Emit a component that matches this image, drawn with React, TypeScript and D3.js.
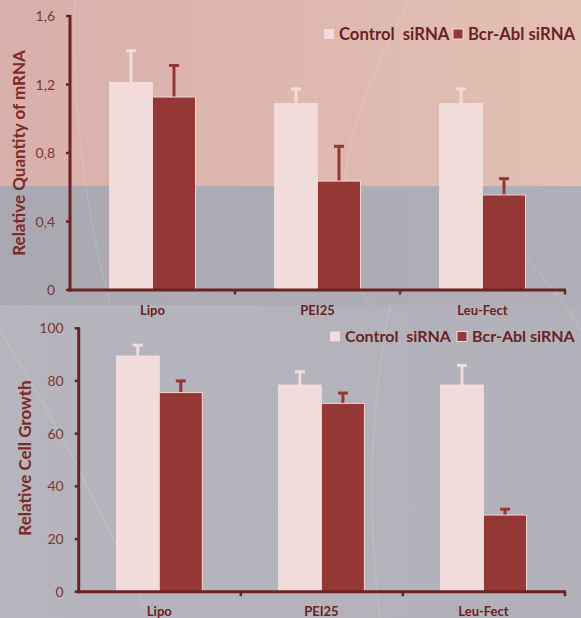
import React from "react";
import * as d3 from "d3";

const categories = ["Lipo", "PEI25", "Leu-Fect"];
const seriesNames = ["Control  siRNA", "Bcr-Abl siRNA"];

const mrnaControl = [1.213, 1.088, 1.088];
const mrnaControlErr = [0.19, 0.092, 0.092];
const mrnaBcr = [1.127, 0.636, 0.555];
const mrnaBcrErr = [0.19, 0.209, 0.101];
const mrnaTicks = [0, 0.4, 0.8, 1.2, 1.6];
const mrnaTickLabels = ["0", "0,4", "0,8", "1,2", "1,6"];

const growthControl = [89.5, 78.5, 78.5];
const growthControlErr = [4.5, 5.4, 7.8];
const growthBcr = [75.6, 71.5, 29.1];
const growthBcrErr = [4.8, 4.3, 2.6];
const growthTicks = [0, 20, 40, 60, 80, 100];
const growthTickLabels = ["0", "20", "40", "60", "80", "100"];

const CONTROL = "#f2dcdb";
const BCR = "#953735";
const AXIS = "#6b2222";
const TEXT = "#6b2222";
const TICKTXT = "#7a3636";
const FONT = "Lato, 'Open Sans', sans-serif";

type PanelProps = {
  x0: number;
  x1: number;
  yBottom: number;
  yTop: number;
  domainMax: number;
  ticks: number[];
  tickLabels: string[];
  control: number[];
  controlErr: number[];
  bcr: number[];
  bcrErr: number[];
  barOffset: number;
  barWidth: number;
  title: string;
  titleX: number;
  titleY: number;
  labelY: number;
  legendX: number;
  legendX2: number;
  legendY: number;
  legendSize: number;
};

function Panel(p: PanelProps) {
  const y = d3.scaleLinear().domain([0, p.domainMax]).range([p.yBottom, p.yTop]);
  const xg = d3.scaleBand<string>().domain(categories).range([p.x0, p.x1]).padding(0);
  const xs = d3
    .scaleBand<number>()
    .domain([0, 1])
    .range([p.barOffset, p.barOffset + 2 * p.barWidth])
    .padding(0);
  const series = [
    { vals: p.control, errs: p.controlErr, color: CONTROL, stroke: "#f6e6e4" },
    { vals: p.bcr, errs: p.bcrErr, color: BCR, stroke: "#f0d6d3" },
  ];
  const bw = xs.bandwidth();
  return (
    <g>
      {series.map((s, si) =>
        categories.map((c, ci) => {
          const bx = (xg(c) as number) + (xs(si) as number);
          const top = y(s.vals[ci]);
          const errTop = y(s.vals[ci] + s.errs[ci]);
          const cx = bx + bw / 2;
          return (
            <g key={`${si}-${ci}`}>
              <line x1={cx} x2={cx} y1={top} y2={errTop} stroke={s.color} strokeWidth={3} />
              <line x1={cx - 5} x2={cx + 5} y1={errTop + 1} y2={errTop + 1} stroke={s.color} strokeWidth={3} />
              <rect
                x={bx}
                y={top}
                width={bw}
                height={p.yBottom - top}
                fill={s.color}
                stroke={s.stroke}
                strokeWidth={si === 1 ? 1 : 0.6}
              />
            </g>
          );
        })
      )}
      {/* y axis */}
      <line x1={p.x0} x2={p.x0} y1={p.yTop - 1} y2={p.yBottom + 1.5} stroke={AXIS} strokeWidth={3} />
      {p.ticks.map((t, i) => (
        <g key={t}>
          <line x1={p.x0 - 4} x2={p.x0} y1={y(t)} y2={y(t)} stroke={AXIS} strokeWidth={2.5} />
          <text
            x={p.x0 - 15}
            y={y(t)}
            dy="0.36em"
            textAnchor="end"
            fontFamily={FONT}
            fontSize={14}
            fill={TICKTXT}
          >
            {p.tickLabels[i]}
          </text>
        </g>
      ))}
      {/* x axis */}
      <line x1={p.x0 - 2} x2={p.x1 + 1} y1={p.yBottom} y2={p.yBottom} stroke={AXIS} strokeWidth={3} />
      {categories.map((c) => {
        const gx = (xg(c) as number) + xg.bandwidth();
        return <line key={c} x1={gx} x2={gx} y1={p.yBottom} y2={p.yBottom + 4.5} stroke={AXIS} strokeWidth={2.5} />;
      })}
      {categories.map((c) => (
        <text
          key={c}
          x={(xg(c) as number) + p.barOffset + p.barWidth}
          y={p.labelY}
          textAnchor="middle"
          fontFamily={FONT}
          fontWeight="bold"
          fontSize={13}
          fill={TEXT}
        >
          {c}
        </text>
      ))}
      <text
        transform={`translate(${p.titleX},${p.titleY}) rotate(-90)`}
        textAnchor="middle"
        dy="0.36em"
        fontFamily={FONT}
        fontWeight="bold"
        fontSize={17}
        fill="#7d2a2a"
      >
        {p.title}
      </text>
      {/* legend */}
      {[p.legendX, p.legendX2].map((lx, i) => (
        <g key={i}>
          <rect
            x={lx}
            y={p.legendY - 10}
            width={10}
            height={10}
            fill={i === 0 ? CONTROL : BCR}
            stroke={i === 0 ? "none" : "#f2dcdb"}
            strokeWidth={1}
          />
          <text
            x={lx + 15}
            y={p.legendY + 0.5}
            fontFamily={FONT}
            fontWeight="bold"
            fontSize={p.legendSize}
            fill={TEXT}
            style={{ whiteSpace: "pre" }}
          >
            {seriesNames[i]}
          </text>
        </g>
      ))}
    </g>
  );
}

export default function App() {
  return (
    <svg
      width={581}
      height={618}
      style={{ position: "absolute", left: 0, top: 0 }}
      xmlns="http://www.w3.org/2000/svg"
    >
      <defs>
        <linearGradient id="pinkGrad" x1="0" x2="1" y1="0" y2="0">
          <stop offset="0" stopColor="#d9afab" />
          <stop offset="1" stopColor="#e3c0b3" />
        </linearGradient>
        <linearGradient id="grayGrad" x1="0" x2="1" y1="0" y2="0">
          <stop offset="0" stopColor="#aaa9b2" />
          <stop offset="1" stopColor="#b0afb8" />
        </linearGradient>
        <linearGradient id="bottomGrad" x1="0" x2="1" y1="0" y2="0">
          <stop offset="0" stopColor="#b6b5bd" />
          <stop offset="1" stopColor="#b2b1b9" />
        </linearGradient>
      </defs>
      <rect x={0} y={0} width={581} height={186} fill="url(#pinkGrad)" />
      <rect x={0} y={186} width={581} height={119} fill="url(#grayGrad)" />
      <rect x={0} y={305} width={581} height={313} fill="url(#bottomGrad)" />
      <g fill="none" stroke="#ffffff" strokeOpacity={0.14} strokeWidth={1.2}>
        <path d="M 75 0 Q 70 150 110 305" />
        <path d="M 410 0 Q 300 200 370 305" />
        <path d="M 0 330 Q 80 460 150 618" />
        <path d="M 390 305 Q 360 460 380 618" />
        <path d="M 460 200 Q 540 260 581 330" />
      </g>
      <Panel
        x0={70}
        x1={565}
        yBottom={290}
        yTop={16}
        domainMax={1.6}
        ticks={mrnaTicks}
        tickLabels={mrnaTickLabels}
        control={mrnaControl}
        controlErr={mrnaControlErr}
        bcr={mrnaBcr}
        bcrErr={mrnaBcrErr}
        barOffset={39.5}
        barWidth={43}
        title="Relative Quantity of mRNA"
        titleX={19}
        titleY={153}
        labelY={315}
        legendX={324}
        legendX2={453}
        legendY={39}
        legendSize={16.7}
      />
      <Panel
        x0={78.7}
        x1={565}
        yBottom={591.7}
        yTop={328.3}
        domainMax={100}
        ticks={growthTicks}
        tickLabels={growthTickLabels}
        control={growthControl}
        controlErr={growthControlErr}
        bcr={growthBcr}
        bcrErr={growthBcrErr}
        barOffset={37.6}
        barWidth={43}
        title="Relative Cell Growth"
        titleX={25}
        titleY={458}
        labelY={616}
        legendX={330}
        legendX2={457}
        legendY={341.5}
        legendSize={16}
      />
    </svg>
  );
}
